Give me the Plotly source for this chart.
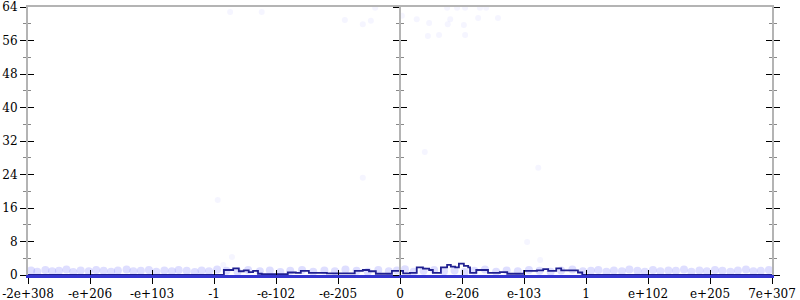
import plotly.graph_objects as go

# ---- data ----
tick_pos = [-6, -5, -4, -3, -2, -1, 0, 1, 2, 3, 4, 5, 6]
tick_text = ["-2e+308", "-e+206", "-e+103", "-1", "-e-102", "-e-205", "0",
             "e-206", "e-103", "1", "e+102", "e+205", "7e+307"]
y_ticks = [0, 8, 16, 24, 32, 40, 48, 56, 64]

# step line (breakpoints, value holds until next breakpoint)
step_x = [-6.0, -2.84, -2.69, -2.60, -2.52, -2.44, -2.37, -2.29, -2.23, -1.81, -1.68,
          -1.60, -1.47, -1.18, -0.73, -0.60, -0.50, -0.39, -0.13, 0.05, 0.16, 0.27,
          0.37, 0.47, 0.53, 0.66, 0.76, 0.82, 0.89, 0.95, 1.03, 1.10, 1.13, 1.23,
          1.42, 1.61, 1.73, 2.00, 2.21, 2.31, 2.39, 2.52, 2.60, 2.87, 2.94, 6.0]
step_y = [0.0, 1.2, 1.6, 0.9, 1.1, 0.7, 1.0, 0.3, 0.2, 0.6, 0.5,
          1.0, 0.5, 0.4, 1.0, 1.2, 0.9, 0.3, 1.0, 0.4, 0.5, 1.8,
          1.5, 1.2, 0.5, 1.8, 2.4, 2.0, 1.8, 2.7, 2.2, 1.8, 0.5, 1.2,
          0.5, 0.7, 0.3, 1.0, 1.1, 1.4, 1.0, 1.6, 1.1, 0.6, 0.0, 0.0]

# faint scattered samples
band_x = [-5.95, -5.85, -5.72, -5.61, -5.50, -5.38, -5.27, -5.15, -5.02, -4.90,
          -4.78, -4.66, -4.55, -4.41, -4.30, -4.18, -4.05, -3.93, -3.80, -3.68,
          -3.57, -3.44, -3.31, -3.20, -3.08, -2.95, -2.80, -2.62, -2.45, -2.26,
          -2.10, -1.93, -1.77, -1.58, -1.40, -1.22, -1.05, -0.88, -0.70, -0.52,
          -0.35, -0.18, -0.05, 0.08, 0.22, 0.38, 0.55, 0.71, 0.88, 1.04,
          1.20, 1.37, 1.55, 1.72, 1.90, 2.08, 2.25, 2.43, 2.60, 2.78,
          2.95, 3.08, 3.20, 3.33, 3.45, 3.58, 3.70, 3.83, 3.95, 4.08,
          4.20, 4.33, 4.45, 4.58, 4.70, 4.83, 4.95, 5.08, 5.20, 5.33,
          5.45, 5.58, 5.70, 5.82, 5.95]
band_y = [1.1, 0.8, 1.2, 0.9, 1.0, 1.3, 0.7, 1.1, 0.9, 1.2,
          1.0, 0.8, 1.1, 1.3, 0.9, 1.0, 1.2, 0.8, 1.1, 0.9,
          1.2, 1.0, 0.7, 1.1, 0.9, 1.3, 1.0, 0.8, 1.2, 0.9,
          1.1, 0.7, 1.0, 1.2, 0.8, 1.1, 0.9, 1.3, 1.0, 0.8,
          1.2, 0.9, 1.1, 1.4, 0.8, 1.0, 1.2, 0.9, 1.1, 0.7,
          1.0, 1.3, 0.8, 1.1, 0.9, 1.2, 1.0, 0.8, 1.1, 1.3,
          0.9, 1.0, 1.2, 0.8, 1.1, 0.9, 1.3, 1.0, 0.8, 1.2,
          0.9, 1.1, 1.0, 1.3, 0.8, 1.1, 0.9, 1.2, 1.0, 0.8,
          1.1, 1.3, 0.9, 1.0, 1.2]
scat_x = [-0.40, -0.60, -0.47, 0.03, 0.27, 0.47, 0.45, 0.63, 0.77, 0.81,
          0.76, 0.92, 1.05, 1.03, 1.05, 1.26, 1.29, 1.39, 1.58, -2.94,
          -0.60, 0.40, 2.23, 2.05, -2.71, -2.85, 2.26, -2.74, -2.23, -0.89]
scat_y = [63.8, 59.9, 60.7, 61.9, 61.1, 60.2, 57.1, 57.3, 59.9, 61.1,
          63.8, 63.8, 63.8, 59.7, 57.3, 61.4, 63.8, 63.8, 61.4, 17.9,
          23.2, 29.4, 25.6, 7.9, 4.3, 2.4, 3.6, 62.8, 62.8, 60.9]

GREY = "#b4b4b4"
FONT = dict(family="DejaVu Serif", size=12, color="black")

fig = go.Figure()
fig.add_trace(go.Scatter(x=band_x, y=band_y, mode="markers",
                         marker=dict(size=8, color="rgba(90,90,255,0.2)", line=dict(width=0)),
                         hoverinfo="skip"))
fig.add_trace(go.Scatter(x=scat_x, y=scat_y, mode="markers",
                         marker=dict(size=6, color="rgba(90,90,255,0.06)", line=dict(width=0)),
                         hoverinfo="skip"))
fig.add_trace(go.Scatter(x=step_x, y=step_y, mode="lines", line_shape="hv",
                         line=dict(color="#202090", width=1.8)))

xr = [-6, 6]
yr = [0, 64]
minor_out = dict(ticks="outside", ticklen=3, tickcolor="#888888", dtick=4, tick0=0)
minor_in = dict(ticks="inside", ticklen=3, tickcolor="#888888", dtick=4, tick0=0)

fig.update_layout(
    width=800, height=300,
    margin=dict(l=28, r=28, t=7, b=25, autoexpand=False),
    paper_bgcolor="white", plot_bgcolor="white",
    showlegend=False,
    font=FONT,
    xaxis=dict(range=xr, tickmode="array", tickvals=tick_pos, ticktext=tick_text,
               ticks="outside", ticklen=6, tickcolor="black", tickwidth=1,
               showline=True, linecolor="#3535d0", linewidth=2.5, automargin=False,
               showgrid=False, zeroline=False, ticklabeloverflow="allow",
               tickfont=FONT),
    xaxis2=dict(range=xr, overlaying="x", anchor="y", side="bottom",
                tickmode="array", tickvals=tick_pos, ticks="inside", ticklen=5,
                tickcolor="black", showticklabels=False, showline=False,
                showgrid=False, zeroline=False, automargin=False),
    xaxis3=dict(range=xr, overlaying="x", anchor="y", side="top",
                ticks="", showticklabels=False, showline=True, linecolor=GREY,
                linewidth=2, showgrid=False, zeroline=False, automargin=False),
    yaxis=dict(range=yr, tickmode="array", tickvals=y_ticks,
               ticks="outside", ticklen=6, tickcolor="black",
               minor=minor_out, showline=True, linecolor=GREY, linewidth=2,
               mirror="ticks", showgrid=False, zeroline=False, tickfont=FONT,
               automargin=False, ticklabeloverflow="allow"),
    yaxis2=dict(range=yr, overlaying="y", anchor="x", tickmode="array",
                tickvals=y_ticks, ticks="inside", ticklen=6, tickcolor="black",
                minor=minor_in, showticklabels=False, showline=False,
                mirror="ticks", showgrid=False, zeroline=False, automargin=False),
    yaxis3=dict(range=yr, overlaying="y", anchor="free", position=0.5,
                tickmode="array", tickvals=y_ticks, ticks="outside", ticklen=6,
                tickcolor="black", minor=minor_out, showticklabels=False,
                showline=True, linecolor=GREY, linewidth=2,
                showgrid=False, zeroline=False, automargin=False),
    yaxis4=dict(range=yr, overlaying="y", anchor="free", position=0.5,
                tickmode="array", tickvals=y_ticks, ticks="inside", ticklen=6,
                tickcolor="black", minor=minor_in, showticklabels=False,
                showline=False, showgrid=False, zeroline=False, automargin=False),
)
# empty traces to activate the overlay axes
for xa, ya in [("x2", "y2"), ("x3", "y3"), ("x", "y4")]:
    fig.add_trace(go.Scatter(x=[None], y=[None], xaxis=xa, yaxis=ya, hoverinfo="skip"))

fig.write_html("out.html")
